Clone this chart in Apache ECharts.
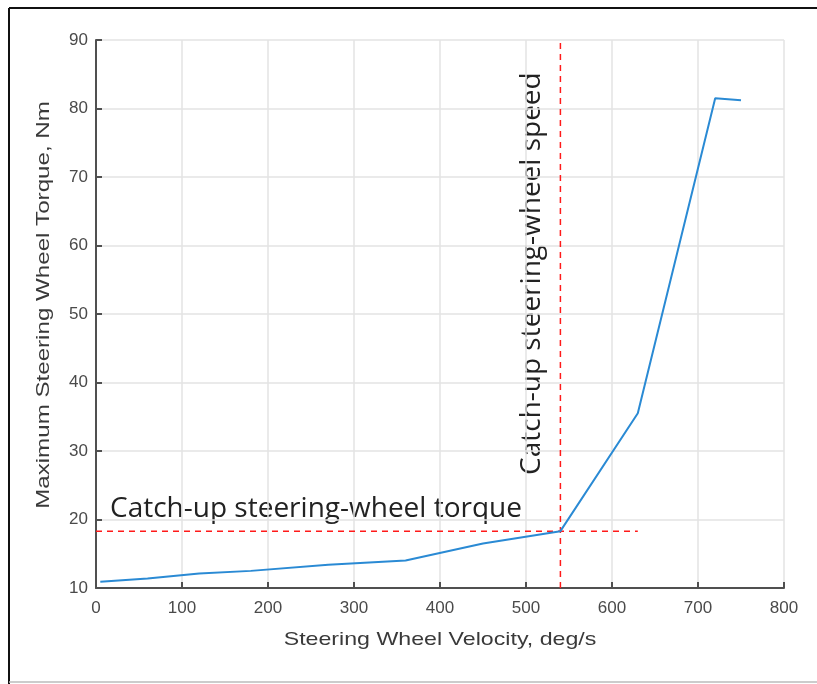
<!DOCTYPE html>
<html>
<head>
<meta charset="utf-8">
<script src="https://cdn.jsdelivr.net/npm/echarts@6/dist/echarts.min.js"></script>
<style>
  html, body { margin: 0; padding: 0; background: #fff; }
  #main { width: 817px; height: 684px; }
</style>
</head>
<body>
<div id="main"></div>
<script>
  // steering wheel velocity (deg/s) vs max torque (Nm)
  const velocity = [5, 60, 120, 180, 270, 360, 450, 540, 630, 720, 750];
  const torque = [10.9, 11.4, 12.1, 12.5, 13.4, 14.0, 16.5, 18.3, 35.5, 81.5, 81.2];

  // catch-up point
  const catchSpeed = 540;
  const catchTorque = 18.3;
  const torqueLineEnd = 630;

  const xTicks = { min: 0, max: 800, step: 100 };
  const yTicks = { min: 10, max: 90, step: 10 };

  const tickFont = 'Liberation Sans, Arial, sans-serif';
  const noteFont = 'Open Sans, Noto Sans, sans-serif';

  const myChart = echarts.init(document.getElementById('main'));
  myChart.setOption({
    animation: false,
    grid: { left: 96, right: 33, top: 40, bottom: 96 },
    xAxis: {
      type: 'value',
      min: xTicks.min, max: xTicks.max, interval: xTicks.step,
      axisLine: { lineStyle: { color: '#505050', width: 2 } },
      axisTick: { inside: true, length: 6, lineStyle: { color: '#505050', width: 2 } },
      axisLabel: { color: '#4a4a4a', fontSize: 17, fontFamily: tickFont, margin: 12 },
      splitLine: { show: true, lineStyle: { color: '#e3e3e3', width: 1.5 } }
    },
    yAxis: {
      type: 'value',
      min: yTicks.min, max: yTicks.max, interval: yTicks.step,
      axisLine: { show: true, lineStyle: { color: '#505050', width: 2 } },
      axisTick: { show: true, inside: true, length: 6, lineStyle: { color: '#505050', width: 2 } },
      axisLabel: { color: '#4a4a4a', fontSize: 17, fontFamily: tickFont, margin: 8 },
      splitLine: { show: true, lineStyle: { color: '#e3e3e3', width: 1.5 } }
    },
    series: [
      {
        name: 'torque',
        type: 'line',
        data: velocity.map((v, i) => [v, torque[i]]),
        showSymbol: false,
        lineStyle: { color: '#2a8ad4', width: 2 },
        z: 3
      },
      {
        name: 'catch-up torque',
        type: 'line',
        data: [[xTicks.min, catchTorque], [torqueLineEnd, catchTorque]],
        showSymbol: false,
        lineStyle: { color: '#ff1a1a', width: 1.5, type: [6, 5] },
        z: 2
      },
      {
        name: 'catch-up speed',
        type: 'line',
        data: [[catchSpeed, yTicks.min], [catchSpeed, yTicks.max]],
        showSymbol: false,
        lineStyle: { color: '#ff1a1a', width: 1.5, type: [6, 5] },
        z: 2
      }
    ],
    graphic: [
      // frame
      { type: 'line', shape: { x1: 9, y1: 8, x2: 817, y2: 8 }, style: { stroke: '#111', lineWidth: 2 } },
      { type: 'line', shape: { x1: 9, y1: 8, x2: 9, y2: 684 }, style: { stroke: '#111', lineWidth: 2 } },
      { type: 'line', shape: { x1: 9, y1: 682, x2: 817, y2: 682 }, style: { stroke: '#bbb', lineWidth: 1.5 } },
      // axis names (stretched like the original)
      {
        type: 'text', x: 440, y: 640, scaleX: 1.22,
        style: { text: 'Steering Wheel Velocity, deg/s', fill: '#3a3a3a', font: '19px ' + tickFont,
          textAlign: 'center', textVerticalAlign: 'middle' }
      },
      {
        type: 'text', x: 44, y: 305, rotation: Math.PI / 2, scaleX: 1.27,
        style: { text: 'Maximum Steering Wheel Torque, Nm', fill: '#3a3a3a', font: '19px ' + tickFont,
          textAlign: 'center', textVerticalAlign: 'middle' }
      },
      // annotations
      {
        type: 'text', left: 110, top: 495,
        style: { text: 'Catch-up steering-wheel torque', fill: '#222', font: '28px ' + noteFont }
      },
      {
        type: 'text', x: 518, y: 475, rotation: Math.PI / 2,
        style: { text: 'Catch-up steering-wheel speed', fill: '#222', font: '28px ' + noteFont, textVerticalAlign: 'top' }
      }
    ]
  });
</script>
</body>
</html>
